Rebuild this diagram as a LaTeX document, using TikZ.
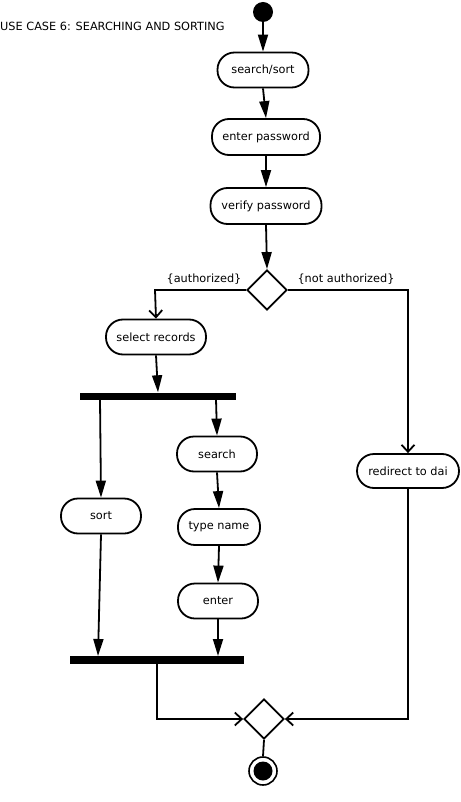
\documentclass[tikz,border=0pt]{standalone}
\usepackage{fontspec}
\setmainfont{DejaVu Sans}
\usetikzlibrary{arrows.meta,shapes.geometric}
\tikzset{
  txt/.style={font=\fontsize{11.3}{12}\selectfont},
  act/.style={draw, line width=1.8pt, rounded corners=17pt, inner sep=0pt, txt},
  bar/.style={fill=black, draw=none, inner sep=0pt},
  dec/.style={draw, diamond, line width=1.8pt, inner sep=0pt, minimum width=40pt, minimum height=40pt, aspect=1},
  flow/.style={line width=1.8pt, -{Triangle[length=17pt,width=10pt]}},
  oflow/.style={line width=1.8pt, -{Straight Barb[length=7pt,width=13pt,line width=1.8pt]}},
  plain/.style={line width=1.8pt},
  lbl/.style={txt, inner sep=0pt},
}
\begin{document}
\begin{tikzpicture}[x=1pt,y=-1pt]
\useasboundingbox (0,0) rectangle (460,802);
\node[anchor=west, txt, inner sep=0pt] (title) at (0,26) {USE CASE 6: SEARCHING AND SORTING};
\node[circle, fill=black, inner sep=0pt, minimum size=20pt] (start) at (263,12) {};
\node[act, minimum width=91pt, minimum height=35pt] (ss) at (263,70) {search/sort};
\node[act, minimum width=108pt, minimum height=36pt] (ep) at (266,137) {enter password};
\node[act, minimum width=111pt, minimum height=36pt] (vp) at (266,206) {verify password};
\node[dec] (d1) at (267,290) {};
\node[act, minimum width=100pt, minimum height=35pt] (sr) at (156,337) {select records};
\node[bar, minimum width=156pt, minimum height=7pt] (f1) at (158,396) {};
\node[act, minimum width=80pt, minimum height=35pt] (se) at (217,454) {search};
\node[act, minimum width=80pt, minimum height=35pt] (so) at (101,516) {sort};
\node[act, minimum width=82pt, minimum height=36pt] (tn) at (219,527) {type name};
\node[act, minimum width=80pt, minimum height=35pt] (en) at (218,601) {enter};
\node[act, minimum width=102pt, minimum height=34pt] (rd) at (408,471) {redirect to dai};
\node[bar, minimum width=174pt, minimum height=8pt] (f2) at (157,660) {};
\node[dec] (d2) at (264,719) {};
\node[circle, draw, line width=1.6pt, inner sep=0pt, minimum size=28pt] (endo) at (263,771) {};
\node[circle, fill=black, inner sep=0pt, minimum size=19pt] (endi) at (263,771) {};

\coordinate (a1) at (155,290);
\coordinate (a2) at (408,290);
\coordinate (f1a) at (100,399);
\coordinate (f1b) at (216,399);
\coordinate (f2a) at (98,656);
\coordinate (f2b) at (218,656);
\coordinate (f2c) at (157,664);
\coordinate (m1) at (157,719);
\coordinate (m2) at (408,719);

\draw[flow] (start) -- (ss);
\draw[flow] (ss.south) -- (ep.north);
\draw[flow] (ep.south) -- (vp.north);
\draw[flow] (vp.south) -- (d1.north);
\draw[oflow] (d1.west) -- (a1) -- (sr.north);
\draw[oflow] (d1.east) -- (a2) -- (rd.north);
\node[lbl] (l1) at (204,279) {\{authorized\}};
\node[lbl] (l2) at (346,279) {\{not authorized\}};
\draw[flow] (sr.south) -- (f1.north);
\draw[flow] (f1a) -- (so.north);
\draw[flow] (f1b) -- (se.north);
\draw[flow] (se.south) -- (tn.north);
\draw[flow] (tn.south) -- (en.north);
\draw[flow] (so.south) -- (f2a);
\draw[flow] (en.south) -- (f2b);
\draw[oflow] (f2c) -- (m1) -- (d2.west);
\draw[oflow] (rd.south) -- (m2) -- (d2.east);
\draw[plain] (d2.south) -- (endo.north);
\end{tikzpicture}
\end{document}
